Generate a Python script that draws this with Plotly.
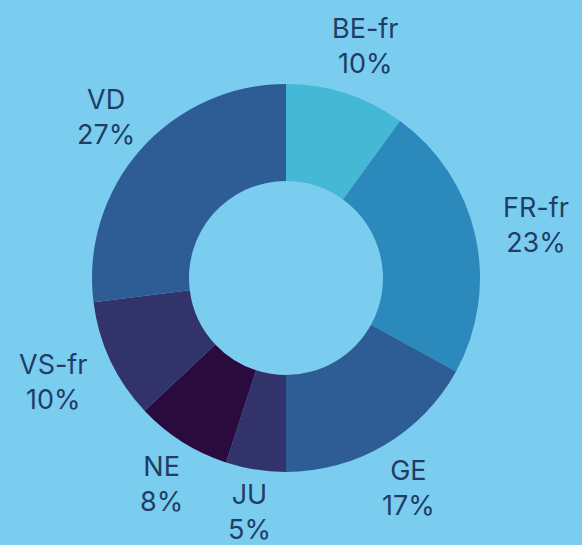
import math
import plotly.graph_objects as go

cantons = ["BE-fr", "FR-fr", "GE", "JU", "NE", "VS-fr", "VD"]
shares = [10, 23, 17, 5, 8, 10, 27]
colors = ["#45b8d5", "#2b89bb", "#2e5d96", "#33336c", "#2b0a3e", "#33336c", "#2e5d96"]

W, H = 582, 545
BG = "#7bcdf0"
TEXT = "#1f3d66"
FONT_SIZE = 27

# pie geometry in pixels
cx, cy, r = 286, 278, 194
gap = 22          # distance from ring edge to the label box
box_h = 56        # two-line label height

fig = go.Figure(go.Pie(
    labels=cantons,
    values=shares,
    hole=0.5,
    sort=False,
    direction="clockwise",
    rotation=0,
    marker=dict(colors=colors, line=dict(width=0)),
    textinfo="none",
    hoverinfo="label+percent",
    showlegend=False,
    domain=dict(x=[(cx - r) / W, (cx + r) / W], y=[1 - (cy + r) / H, 1 - (cy - r) / H]),
))

# labels outside each slice, pushed out along the slice's mid angle
total = sum(shares)
start = 0.0
for name, v in zip(cantons, shares):
    mid = (start + v / 2) / total * 2 * math.pi
    start += v
    pct = f"{round(v / total * 100)}%"
    ux, uy = math.sin(mid), -math.cos(mid)
    box_w = max(len(name), len(pct)) * 0.6 * FONT_SIZE
    px = cx + (r + gap) * ux + ux * box_w / 2
    py = cy + (r + gap) * uy + uy * box_h / 2
    # keep the label inside the canvas
    py = min(max(py, box_h / 2 + 5), H - box_h / 2 - 5)
    fig.add_annotation(
        x=px / W, y=1 - py / H,
        xref="paper", yref="paper",
        text=f"{name}<br>{pct}",
        showarrow=False,
        xanchor="center", yanchor="middle",
        font=dict(size=FONT_SIZE, color=TEXT),
    )

fig.update_layout(
    width=W, height=H,
    paper_bgcolor=BG,
    plot_bgcolor=BG,
    font=dict(family="Inter", size=FONT_SIZE, color=TEXT),
    margin=dict(l=0, r=0, t=0, b=0),
)

fig.write_html(
    "out.html",
    config={"displayModeBar": False},
    post_script=(
        "document.body.style.margin='0';"
        f"document.body.style.background='{BG}';"
        f"document.documentElement.style.background='{BG}';"
    ),
)
